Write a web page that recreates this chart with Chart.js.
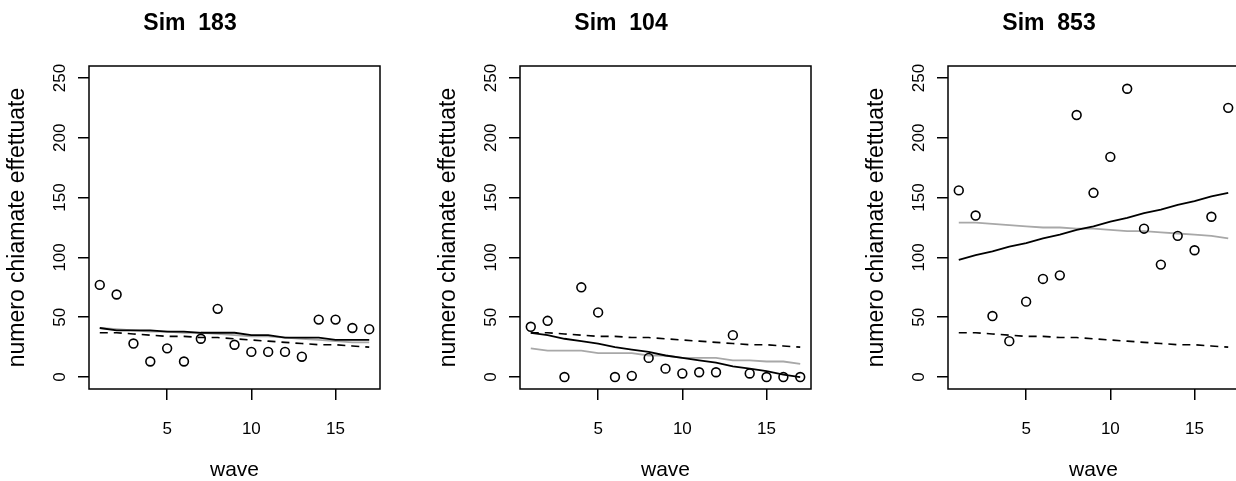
<!DOCTYPE html>
<html lang="it">
<head>
<meta charset="UTF-8">
<title>Sim</title>
<script src="https://cdn.jsdelivr.net/npm/chart.js"></script>
<style>
  html, body { margin: 0; padding: 0; background: #fff; overflow: hidden; }
  body { width: 1236px; height: 481px; position: relative; }
  .pannello { position: absolute; top: 0; width: 431px; height: 481px; }
</style>
</head>
<body>
<div class="pannello" style="left:0px"><canvas id="sim183" width="431" height="481"></canvas></div>
<div class="pannello" style="left:431px"><canvas id="sim104" width="431" height="481"></canvas></div>
<div class="pannello" style="left:859px"><canvas id="sim853" width="431" height="481"></canvas></div>

<script>
    // dati
    const waves = [1, 2, 3, 4, 5, 6, 7, 8, 9, 10, 11, 12, 13, 14, 15, 16, 17];
    const xTicks = [5, 10, 15];
    const yTicks = [0, 50, 100, 150, 200, 250];

    // linea tratteggiata (uguale nei tre pannelli)
    const mediaTratteggio = [37, 37, 36, 35, 34, 34, 33, 33, 32, 31, 30, 29, 28, 27, 27, 26, 25];

    const oss183 = [77, 69, 28, 13, 24, 13, 32, 57, 27, 21, 21, 21, 17, 48, 48, 41, 40];
    const fit183 = [41, 39, 39, 39, 38, 38, 37, 37, 37, 35, 35, 33, 33, 33, 31, 31, 31];
    const grigio183 = [41, 40, 39, 38, 38, 37, 37, 36, 35, 34, 34, 33, 32, 31, 30, 29, 29];

    const oss104 = [42, 47, 0, 75, 54, 0, 1, 16, 7, 3, 4, 4, 35, 3, 0, 0, 0];
    const fit104 = [37, 35, 32, 30, 28, 25, 23, 21, 18, 16, 14, 12, 9, 7, 5, 2, 0];
    const grigio104 = [24, 22, 22, 22, 20, 20, 20, 18, 18, 16, 16, 16, 14, 14, 13, 13, 11];

    const oss853 = [156, 135, 51, 30, 63, 82, 85, 219, 154, 184, 241, 124, 94, 118, 106, 134, 225];
    const fit853 = [98, 102, 105, 109, 112, 116, 119, 123, 126, 130, 133, 137, 140, 144, 147, 151, 154];
    const grigio853 = [129, 129, 128, 127, 126, 125, 125, 124, 124, 123, 122, 122, 121, 120, 119, 118, 116];

    const FONT = "'Liberation Sans', Arial, sans-serif";

    function punti(valori) {
        return waves.map((w, i) => ({ x: w, y: valori[i] }));
    }

    // riquadro nero attorno all'area del grafico
    const riquadro = {
        id: 'riquadro',
        afterDraw(chart) {
            const { ctx, chartArea } = chart;
            ctx.save();
            ctx.strokeStyle = '#000';
            ctx.lineWidth = 1.5;
            ctx.strokeRect(chartArea.left, chartArea.top, chartArea.right - chartArea.left, chartArea.bottom - chartArea.top);
            ctx.restore();
        }
    };

    function creaGrafico(id, titolo, oss, fit, grigio) {
        new Chart(document.getElementById(id), {
            type: 'scatter',
            data: {
                datasets: [
                    {
                        data: punti(oss),
                        borderColor: '#000',
                        backgroundColor: 'rgba(0,0,0,0)',
                        borderWidth: 1.6,
                        pointRadius: 4.4,
                        pointHoverRadius: 4.4
                    },
                    {
                        data: punti(fit),
                        showLine: true,
                        borderColor: '#000',
                        borderWidth: 1.8,
                        pointRadius: 0
                    },
                    {
                        data: punti(grigio),
                        showLine: true,
                        borderColor: '#a8a8a8',
                        borderWidth: 1.8,
                        pointRadius: 0
                    },
                    {
                        data: punti(mediaTratteggio),
                        showLine: true,
                        borderColor: '#000',
                        borderWidth: 1.6,
                        borderDash: [8, 6],
                        pointRadius: 0
                    }
                ]
            },
            options: {
                responsive: false,
                animation: false,
                events: [],
                layout: { padding: { left: 0, right: 51, top: 0, bottom: 0 } },
                plugins: {
                    legend: { display: false },
                    tooltip: { enabled: false },
                    title: {
                        display: true,
                        text: titolo,
                        color: '#000',
                        font: { family: FONT, size: 23, weight: 'bold' },
                        padding: { top: 10, bottom: 28.4 }
                    }
                },
                scales: {
                    x: {
                        type: 'linear',
                        min: 0.36,
                        max: 17.64,
                        afterFit(scale) { scale.height = 92; },
                        afterBuildTicks(scale) { scale.ticks = xTicks.map(v => ({ value: v })); },
                        border: { display: false },
                        grid: { drawOnChartArea: false, color: '#000', lineWidth: 1.5, tickLength: 11 },
                        ticks: {
                            color: '#000',
                            font: { family: FONT, size: 17 },
                            padding: 19,
                            maxRotation: 0
                        },
                        title: {
                            display: true,
                            text: 'wave',
                            color: '#000',
                            font: { family: FONT, size: 21, lineHeight: 1 },
                            padding: { top: 0, bottom: 0 }
                        }
                    },
                    y: {
                        type: 'linear',
                        min: -10,
                        max: 260,
                        afterFit(scale) { scale.width = 89; },
                        afterBuildTicks(scale) { scale.ticks = yTicks.map(v => ({ value: v })); },
                        border: { display: false },
                        grid: { drawOnChartArea: false, color: '#000', lineWidth: 1.5, tickLength: 11 },
                        ticks: {
                            color: '#000',
                            font: { family: FONT, size: 17 },
                            minRotation: 90,
                            maxRotation: 90,
                            crossAlign: 'center',
                            padding: 4
                        },
                        title: {
                            display: true,
                            text: 'numero chiamate effettuate',
                            color: '#000',
                            font: { family: FONT, size: 23 },
                            padding: { top: 4, bottom: 0 }
                        }
                    }
                }
            },
            plugins: [riquadro]
        });
    }

    creaGrafico('sim183', 'Sim  183', oss183, fit183, grigio183);
    creaGrafico('sim104', 'Sim  104', oss104, fit104, grigio104);
    creaGrafico('sim853', 'Sim  853', oss853, fit853, grigio853);
</script>
</body>
</html>
